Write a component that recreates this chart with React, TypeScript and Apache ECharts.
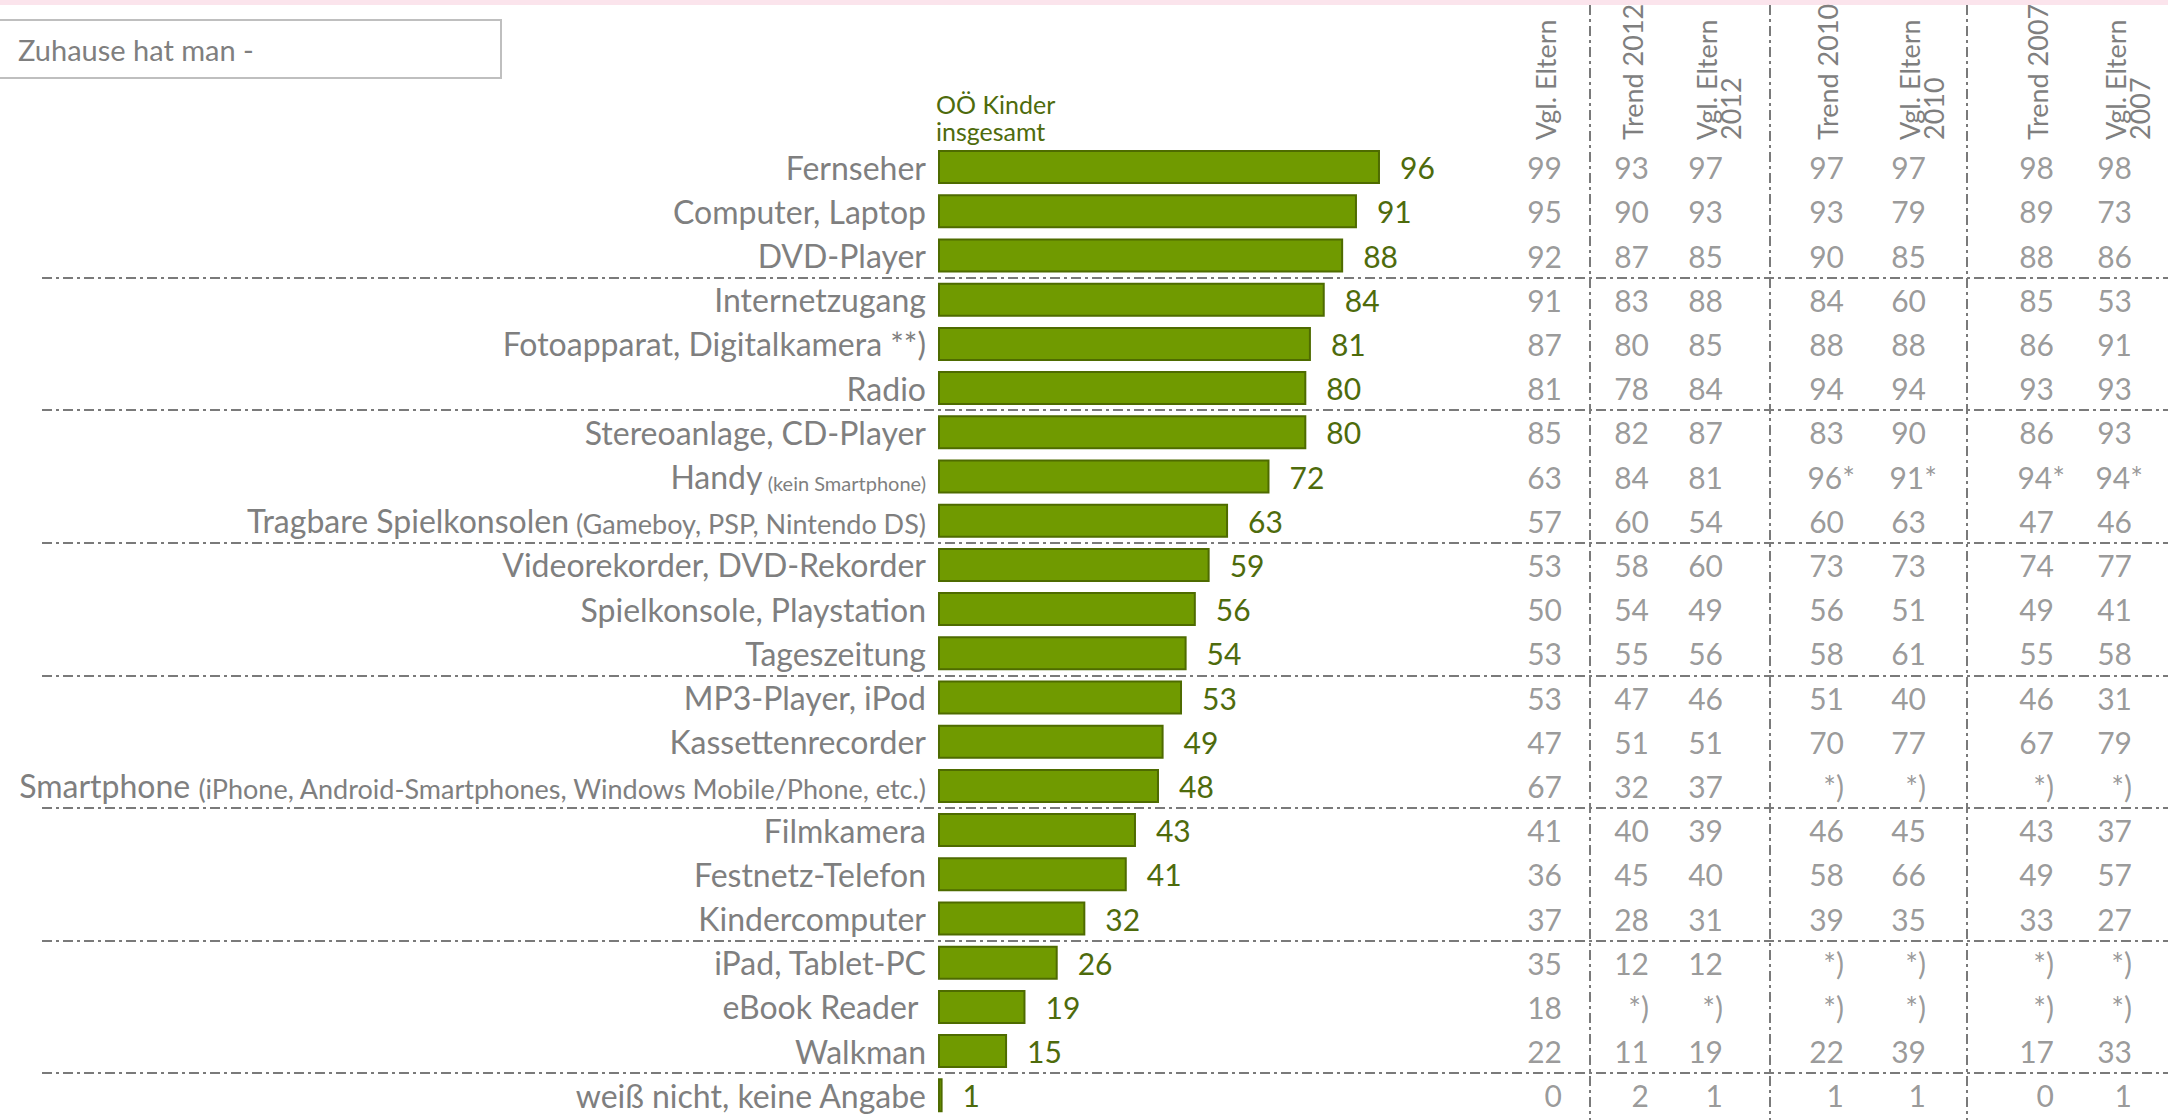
import React, { useEffect, useRef } from "react";
import * as echarts from "echarts";

// ---------- data ----------
const categories = [
  "Fernseher",
  "Computer, Laptop",
  "DVD-Player",
  "Internetzugang",
  "Fotoapparat, Digitalkamera **)",
  "Radio",
  "Stereoanlage, CD-Player",
  "Handy (kein Smartphone)",
  "Tragbare Spielkonsolen (Gameboy, PSP, Nintendo DS)",
  "Videorekorder, DVD-Rekorder",
  "Spielkonsole, Playstation",
  "Tageszeitung",
  "MP3-Player, iPod",
  "Kassettenrecorder",
  "Smartphone (iPhone, Android-Smartphones, Windows Mobile/Phone, etc.)",
  "Filmkamera",
  "Festnetz-Telefon",
  "Kindercomputer",
  "iPad, Tablet-PC",
  "eBook Reader ",
  "Walkman",
  "weiß nicht, keine Angabe",
];

// categories whose note in brackets is set in the smallest type
const smallNoteCategories = ["Handy (kein Smartphone)"];

const kinderInsgesamt = [96, 91, 88, 84, 81, 80, 80, 72, 63, 59, 56, 54, 53, 49, 48, 43, 41, 32, 26, 19, 15, 1];

const columnHeaders = [
  "Vgl. Eltern",
  "Trend 2012",
  "Vgl. Eltern\n2012",
  "Trend 2010",
  "Vgl. Eltern\n2010",
  "Trend 2007",
  "Vgl. Eltern\n2007",
];

const vglEltern = ["99", "95", "92", "91", "87", "81", "85", "63", "57", "53", "50", "53", "53", "47", "67", "41", "36", "37", "35", "18", "22", "0"];
const trend2012 = ["93", "90", "87", "83", "80", "78", "82", "84", "60", "58", "54", "55", "47", "51", "32", "40", "45", "28", "12", "*)", "11", "2"];
const vglEltern2012 = ["97", "93", "85", "88", "85", "84", "87", "81", "54", "60", "49", "56", "46", "51", "37", "39", "40", "31", "12", "*)", "19", "1"];
const trend2010 = ["97", "93", "90", "84", "88", "94", "83", "96*", "60", "73", "56", "58", "51", "70", "*)", "46", "58", "39", "*)", "*)", "22", "1"];
const vglEltern2010 = ["97", "79", "85", "60", "88", "94", "90", "91*", "63", "73", "51", "61", "40", "77", "*)", "45", "66", "35", "*)", "*)", "39", "1"];
const trend2007 = ["98", "89", "88", "85", "86", "93", "86", "94*", "47", "74", "49", "55", "46", "67", "*)", "43", "49", "33", "*)", "*)", "17", "0"];
const vglEltern2007 = ["98", "73", "86", "53", "91", "93", "93", "94*", "46", "77", "41", "58", "31", "79", "*)", "37", "57", "27", "*)", "*)", "33", "1"];

const tableColumns = [vglEltern, trend2012, vglEltern2012, trend2010, vglEltern2010, trend2007, vglEltern2007];

const boxTitle = "Zuhause hat man -";
const seriesTitle = "OÖ Kinder\ninsgesamt";

// ---------- layout & style ----------
const W = 2168;
const H = 1120;
const FONT = "Lato, 'Open Sans', sans-serif";
const GRAY = "#7f7f7f";
const OLIVE = "#4e6b0c";
const BAR_FILL = "#709a00";
const BAR_BORDER = "#4e6b00";
const LINE_COLOR = "#7a7a7a";
const DASH = [10, 4, 3, 4];

const ROW_TOP = 145;
const ROW_H = 972.4;
const BAR_LEFT = 938;
const BAR_W = 460.4;
const SEP_LEFT = 42;
const COL_RIGHT = [1562, 1649, 1723, 1844, 1926, 2054, 2132];
const COL_HALF = 17;
const DIVIDERS = [1590, 1770, 1967];
const HEADER_LH = 24;
const STAR_HANG = 11; // footnote asterisk hangs past the digit column

function labelFormatter(value: string) {
  const i = value.indexOf(" (");
  if (i > 0) {
    const style = smallNoteCategories.includes(value) ? "x" : "s";
    return `{m|${value.slice(0, i)}}{${style}| ${value.slice(i + 1)}}`;
  }
  return `{m|${value}}`;
}

// two-line headers: keep the first line centred on the column
function headerFormatter(value: string) {
  return value.includes("\n") ? "\n" + value : value;
}

const hasHangingStar = (v: string) => v.endsWith("*");

export default function App() {
  const ref = useRef<HTMLDivElement>(null);

  useEffect(() => {
    if (!ref.current) return;
    const chart = echarts.init(ref.current, undefined, { renderer: "svg" });

    const grids: any[] = [
      { left: BAR_LEFT, top: ROW_TOP, width: BAR_W, height: ROW_H, outerBoundsMode: "none" },
      { left: SEP_LEFT, right: 0, top: ROW_TOP, height: ROW_H, outerBoundsMode: "none" },
    ];
    const xAxes: any[] = [
      { gridIndex: 0, type: "value", min: 0, max: 100, show: false },
      { gridIndex: 1, type: "value", min: 0, max: 1, show: false },
    ];
    const yAxes: any[] = [
      {
        gridIndex: 0,
        type: "category",
        data: categories,
        inverse: true,
        axisLine: { show: false },
        axisTick: { show: false },
        splitLine: { show: false },
        axisLabel: {
          interval: 0,
          margin: 12,
          formatter: labelFormatter,
          rich: {
            m: { fontSize: 32, color: GRAY, fontFamily: FONT, verticalAlign: "bottom" },
            s: { fontSize: 27, color: GRAY, fontFamily: FONT, verticalAlign: "bottom" },
            x: { fontSize: 20, color: GRAY, fontFamily: FONT, verticalAlign: "bottom" },
          },
        },
      },
      {
        gridIndex: 1,
        type: "category",
        data: categories,
        inverse: true,
        axisLine: { show: false },
        axisTick: { show: false },
        axisLabel: { show: false },
        splitLine: {
          show: true,
          interval: (idx: number) => idx > 0 && idx % 3 === 0,
          showMaxLine: false,
          lineStyle: { color: LINE_COLOR, width: 2, type: DASH },
        },
      },
    ];
    const series: any[] = [
      {
        type: "bar",
        xAxisIndex: 0,
        yAxisIndex: 0,
        data: kinderInsgesamt,
        barWidth: 34,
        itemStyle: { color: BAR_FILL, borderColor: BAR_BORDER, borderWidth: 2 },
        label: {
          show: true,
          position: "right",
          distance: 20,
          fontSize: 30,
          color: OLIVE,
          fontFamily: FONT,
        },
        silent: true,
      },
    ];

    tableColumns.forEach((col, c) => {
      const gi = 2 + c;
      grids.push({
        left: COL_RIGHT[c] - 2 * COL_HALF,
        width: 2 * COL_HALF,
        top: ROW_TOP,
        height: ROW_H,
        outerBoundsMode: "none",
      });
      xAxes.push({
        gridIndex: gi,
        type: "category",
        position: "top",
        data: [columnHeaders[c]],
        axisLine: { show: false },
        axisTick: { show: false },
        splitLine: { show: false },
        axisLabel: {
          interval: 0,
          rotate: -90,
          margin: 5,
          fontSize: 27,
          lineHeight: HEADER_LH,
          formatter: headerFormatter,
          color: GRAY,
          fontFamily: FONT,
        },
      });
      yAxes.push({
        gridIndex: gi,
        type: "category",
        data: categories,
        inverse: true,
        show: false,
      });
      series.push({
        type: "scatter",
        xAxisIndex: gi,
        yAxisIndex: gi,
        symbolSize: 1,
        itemStyle: { color: "rgba(0,0,0,0)" },
        data: col.map((v, i) =>
          hasHangingStar(v)
            ? { value: [0, i], label: { offset: [STAR_HANG, 0] } }
            : [0, i]
        ),
        silent: true,
        label: {
          show: true,
          position: [COL_HALF + 0.5, 0.5],
          align: "right",
          verticalAlign: "middle",
          formatter: (p: any) => col[p.dataIndex],
          fontSize: 30,
          color: GRAY,
          fontFamily: FONT,
        },
      });
    });

    const graphic: any[] = [
      {
        type: "rect",
        shape: { x: 0, y: 0, width: W, height: 5 },
        style: { fill: "#fbe4ec" },
        silent: true,
      },
      {
        type: "rect",
        shape: { x: -1, y: 20, width: 502, height: 58 },
        style: { fill: "#ffffff", stroke: "#bfbfbf", lineWidth: 2 },
        silent: true,
      },
      {
        type: "text",
        x: 18,
        y: 49,
        style: {
          text: boxTitle,
          fontSize: 29,
          fontFamily: FONT,
          fill: GRAY,
          verticalAlign: "middle",
          align: "left",
        },
        silent: true,
      },
      ...DIVIDERS.map((x) => ({
        type: "line",
        shape: { x1: x, y1: 5, x2: x, y2: H },
        style: { stroke: LINE_COLOR, lineWidth: 2, lineDash: DASH },
        silent: true,
      })),
    ];

    chart.setOption({
      animation: false,
      backgroundColor: "#ffffff",
      title: {
        text: seriesTitle,
        left: 936,
        top: 90,
        padding: 0,
        textStyle: {
          fontSize: 25,
          lineHeight: 27,
          fontWeight: "normal",
          color: OLIVE,
          fontFamily: FONT,
        },
      },
      grid: grids,
      xAxis: xAxes,
      yAxis: yAxes,
      series,
      graphic,
    });

    return () => chart.dispose();
  }, []);

  return (
    <div
      ref={ref}
      style={{ position: "absolute", left: 0, top: 0, width: W, height: H }}
    />
  );
}
